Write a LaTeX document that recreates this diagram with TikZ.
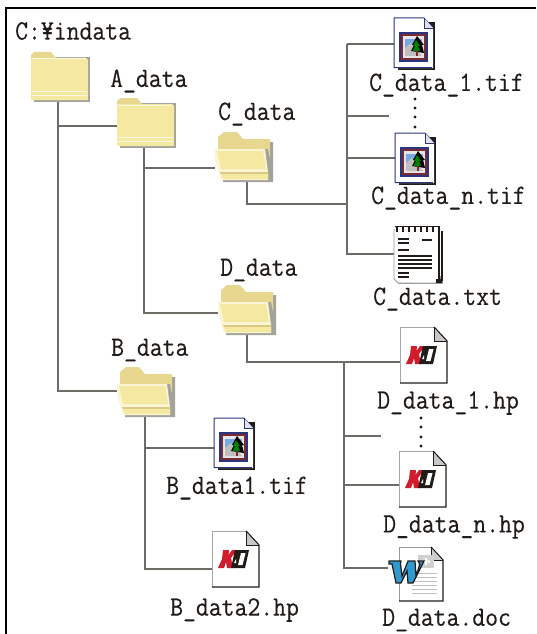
\documentclass[tikz,border=0pt]{standalone}
\usepackage{fontspec}
\definecolor{fbody}{HTML}{F5E9A2}
\definecolor{ftab}{HTML}{E8D88F}
\definecolor{fedge}{HTML}{D9CB84}
\definecolor{fshadow}{HTML}{A3A39B}
\definecolor{conn}{HTML}{6E6A66}
\definecolor{navy}{HTML}{2A3580}
\definecolor{maroon}{HTML}{7A2A30}
\definecolor{kdred}{HTML}{D01C2C}
\definecolor{wblue}{HTML}{2E9AD0}
\definecolor{ink}{HTML}{221C18}
\newfontfamily\lblfont[FakeBold=0.3]{Latin Modern Mono}
\tikzset{
  lbl/.style={anchor=west,inner sep=0pt,font=\fontsize{25}{27}\lblfont,text=ink},
  iconbox/.style={anchor=north west,inner sep=0pt,outer sep=0pt,minimum width=#1},
  wire/.style={draw=conn,line width=1.15pt},
  dotmark/.style={circle,fill=ink,inner sep=0pt,minimum size=3.2pt},
  pics/closedfolder/.style={code={
    \fill[fshadow] (3,5) -- (59,5) -- (59,50) -- (3,50) -- cycle;
    \fill[ftab] (0,6) -- (0,3) -- (3,0) -- (20,0) -- (25,6) -- cycle;
    \fill[fbody] (0,6) -- (55,6) -- (57,8) -- (57,48) -- (0,48) -- cycle;
    \draw[white!70!fbody,line width=1pt] (1,7) -- (55,7);
    \draw[white!70!fbody,line width=1pt] (1,39) -- (56,39) (1,43) -- (56,43);
  }},
  pics/openfolder/.style={code={
    \fill[fshadow] (8,12) -- (58,10) -- (58,50) -- (8,50) -- cycle;
    \fill[ftab] (3,20) -- (3,5) -- (9,0) -- (22,0) -- (28,7) -- (55,7) -- (55,25) -- cycle;
    \fill[fshadow] (49,17) -- (53,17) -- (57,38) -- (56,48) -- (50,48) -- cycle;
    \fill[white!55!fbody] (0,17) -- (50,17) -- (53,40) -- (53,48) -- (6,48) -- (0,28) -- cycle;
    \fill[fbody] (2,19) -- (48,19) -- (51,37) -- (6,37) -- cycle;
    \fill[fedge] (5,40) -- (53,40) -- (53,42) -- (6,42) -- cycle;
    \fill[fbody] (6,42) -- (53,42) -- (53,47) -- (8,47) -- cycle;
  }},
  pics/tifdoc/.style={code={
    \fill[ink] (4,4) -- (41,4) -- (41,52) -- (4,52) -- cycle;
    \fill[white] (0,0) -- (30,0) -- (39,10) -- (39,50) -- (0,50) -- cycle;
    \draw[navy,line width=1pt] (39,10) -- (30,0) -- (0,0) -- (0,49.5) -- (38,49.5);
    \fill[white!85!navy] (30,0) -- (30,10) -- (39,10) -- cycle;
    \draw[navy,line width=.8pt] (30,0) -- (30,10) -- (39,10);
    \fill[navy] (5,14) rectangle (34,44);
    \fill[maroon] (7,16) rectangle (32,42);
    \fill[white!90!black] (9,18) rectangle (30,40);
    \fill[cyan!60!blue!55] (11,21) rectangle (28,30);
    \fill[black!25] (11,38) -- (11,30) -- (17,25) -- (28,38) -- cycle;
    \fill[black] (23,18) -- (30,27) -- (28,27) -- (30,35) -- (17,33) -- (20,27) -- (18,27) -- cycle;
    \fill[green!50!black] (22,22) -- (26,28) -- (24,28) -- (26,33) -- (18.5,33) -- (21,28) -- (19,28) -- cycle;
    \fill[maroon] (22,33) rectangle (23.5,38);
  }},
  pics/blankpage/.style={code={
    \fill[white] (0,0) -- (34,0) -- (47,14) -- (47,56) -- (0,56) -- cycle;
    \draw[black!35,line width=.9pt] (0,56) -- (0,0) -- (34,0);
    \draw[ink,line width=1.3pt] (0,56) -- (47,56) -- (47,14) -- (34,0);
    \fill[black!22] (34,1) -- (34,14) -- (46,14) -- cycle;
    \draw[ink,line width=.6pt] (34,0) -- (34,14) -- (47,14);
  }},
  pics/kd/.style={code={
    \fill[kdred] (11,19) -- (17,19) -- (16.5,24) -- (20,19) -- (25,19) -- (19,27) -- (21,37) -- (15,37) -- (14,31) -- (12,37) -- (6,37) -- (10,28) -- cycle;
    \fill[ink] (23,19) -- (37,19) -- (33,37) -- (19,37) -- cycle;
    \fill[white] (29,22) -- (33.5,22) -- (30.5,34) -- (26,34) -- cycle;
    \fill[white] (22,32) -- (24,28) -- (24,32) -- cycle;
  }},
  pics/notepad/.style={code={
    \fill[black!40] (4,50) rectangle (49,58);
    \fill[white] (0,2) -- (45,2) -- (45,54) -- (41,57) -- (4,57) -- (0,53) -- cycle;
    \draw[black!40,line width=.8pt] (0,3) -- (0,53) -- (4,57) -- (45,57);
    \draw[ink,line width=1.1pt] (45,3) -- (45,56) (48,5) -- (48,55);
    \fill[ink] (42,53) rectangle (48,57);
    \foreach \i in {3,9,...,45}{\draw[ink,line width=1.2pt] (\i,0) -- (\i,6);}
    \draw[ink,line width=1pt] (1,0.5) -- (45,0.5);
    \fill[ink] (4,12) rectangle (15,14);
    \fill[ink] (4,16) rectangle (15,18);
    \fill[ink] (28,13) rectangle (38,15);
    \fill[ink] (4,23) rectangle (15,25);
    \foreach \y in {29,33,37}{\fill[ink] (4,\y) rectangle (38,\y+2);}
    \fill[ink] (4,41) rectangle (38,42.8);
    \fill[ink] (4,46) rectangle (15,48);
    \fill[ink] (4,50) rectangle (15,52);
  }},
  pics/worddoc/.style={code={
    \fill[white] (11,0) -- (43,0) -- (55,13) -- (55,54) -- (11,54) -- cycle;
    \draw[black!40,line width=.8pt] (11,54) -- (11,0) -- (43,0);
    \draw[ink,line width=1.2pt] (11,54) -- (55,54) -- (55,13) -- (43,0);
    \fill[black!20] (43,1) -- (43,13) -- (54,13) -- cycle;
    \draw[ink,line width=.6pt] (43,0) -- (43,13) -- (55,13);
    \fill[black!18] (30,8) rectangle (46,21);
    \fill[white] (37,11) rectangle (39,18) (34,13.5) rectangle (42,15.5);
    \foreach \y in {26,30,34,38,42,46}{\draw[black!25,line width=1pt] (24,\y) -- (49,\y);}
    \draw[ink,line width=1.2pt,fill=wblue,line join=miter]
      (1,14) -- (13,14) -- (12.5,17) -- (14,29) -- (20,14) -- (27,14) -- (28,29)
      -- (32,17) -- (30,14) -- (36,14) -- (25,36) -- (20,36) -- (19,24) -- (13,36)
      -- (8,36) -- (4,17) -- (1,17) -- cycle;
  }}
}
\begin{document}
\begin{tikzpicture}[x=1pt,y=-1pt,line cap=butt]
\useasboundingbox (0,0) rectangle (536,634);
\fill[white] (0,0) rectangle (536,634);
\draw[black,line width=1.8pt] (6,634) -- (6,8) -- (536,8);

% icon placeholders (named nodes), with the drawings on them
\node[iconbox=57pt,minimum height=48pt] (root) at (31,52) {};
\node[iconbox=57pt,minimum height=48pt] (adata) at (117,98) {};
\node[iconbox=57pt,minimum height=48pt] (cdata) at (215,132) {};
\node[iconbox=57pt,minimum height=48pt] (ddata) at (218,285) {};
\node[iconbox=57pt,minimum height=48pt] (bdata) at (117,367) {};
\node[iconbox=40pt,minimum height=50pt] (ct1) at (394,18) {};
\node[iconbox=40pt,minimum height=50pt] (ctn) at (395,133) {};
\node[iconbox=48pt,minimum height=58pt] (ctx) at (394,226) {};
\node[iconbox=47pt,minimum height=56pt] (dh1) at (400,327) {};
\node[iconbox=47pt,minimum height=56pt] (dhn) at (399,451) {};
\node[iconbox=55pt,minimum height=54pt] (ddc) at (388,547) {};
\node[iconbox=40pt,minimum height=50pt] (bt1) at (214,418) {};
\node[iconbox=47pt,minimum height=56pt] (bh2) at (212,531) {};

% trunks and junctions
\coordinate (jA) at (58,126);
\coordinate (jB) at (58,391);
\coordinate (jC) at (144,168);
\coordinate (jD) at (144,313);
\coordinate (jCs) at (247,204);
\coordinate (jDs) at (247,362);
\coordinate (jc1) at (347,44);
\coordinate (jcm) at (347,116);
\coordinate (jcn) at (347,158);
\coordinate (jcx) at (347,254);
\coordinate (jcf) at (347,204);
\coordinate (jd1) at (344,362);
\coordinate (jdm) at (344,436);
\coordinate (jdn) at (344,485);
\coordinate (jdc) at (344,568);
\coordinate (jb1) at (145,448);
\coordinate (jb2) at (145,569);
\coordinate (cmEnd) at (389,116);
\coordinate (dmEnd) at (381,436);

\draw[wire] (root.south -| jA) -- (jB) -- (jB -| bdata.west);
\draw[wire] (jA) -- (jA -| adata.west);
\draw[wire] (adata.south -| jC) -- (jD) -- (jD -| ddata.west);
\draw[wire] (jC) -- (jC -| cdata.west);
\draw[wire] (cdata.south -| jCs) -- (jCs) -- (jcf);
\draw[wire] (jc1) -- (jcx) -- (jcx -| ctx.west);
\draw[wire] (jc1) -- (jc1 -| ct1.west);
\draw[wire] (jcm) -- (cmEnd);
\draw[wire] (jcn) -- (jcn -| ctn.west);
\draw[wire] (ddata.south -| jDs) -- (jDs) -- (jDs -| dh1.west);
\draw[wire] (jd1) -- (jdc) -- (jdc -| ddc.west);
\draw[wire] (jdm) -- (dmEnd);
\draw[wire] (jdn) -- (jdn -| dhn.west);
\draw[wire] (bdata.south -| jb1) -- (jb2) -- (jb2 -| bh2.west);
\draw[wire] (jb1) -- (jb1 -| bt1.west);

% icons
\pic at (root.north west) {closedfolder};
\pic at (adata.north west) {closedfolder};
\pic at (cdata.north west) {openfolder};
\pic at (ddata.north west) {openfolder};
\pic at (bdata.north west) {openfolder};
\pic at (ct1.north west) {tifdoc};
\pic at (ctn.north west) {tifdoc};
\pic at (bt1.north west) {tifdoc};
\pic at (ctx.north west) {notepad};
\pic at (dh1.north west) {blankpage};
\pic at (dh1.north west) {kd};
\pic at (dhn.north west) {blankpage};
\pic at (dhn.north west) {kd};
\pic at (bh2.north west) {blankpage};
\pic at (bh2.north west) {kd};
\pic at (ddc.north west) {worddoc};

% dots
\foreach \n/\y in {a/99,b/108,c/117,d/127}{\node[dotmark] (cd\n) at (415,\y) {};}
\foreach \n/\y in {a/418,b/427,c/437,d/446}{\node[dotmark] (dd\n) at (421,\y) {};}

% labels
\newcommand{\tl}[1]{\scalebox{1}[1.12]{#1}}
\node[lbl] (t0) at (15,31) {\tl{C:¥indata}};
\node[lbl] (t1) at (110,81) {\tl{A\_data}};
\node[lbl] (t2) at (218,114) {\tl{C\_data}};
\node[lbl] (t3) at (220,270) {\tl{D\_data}};
\node[lbl] (t4) at (111,350) {\tl{B\_data}};
\node[lbl] (t5) at (369,85) {\tl{C\_data\_1.tif}};
\node[lbl] (t6) at (371,198) {\tl{C\_data\_n.tif}};
\node[lbl] (t7) at (373,299) {\tl{C\_data.txt}};
\node[lbl] (t8) at (377,403) {\tl{D\_data\_1.hp}};
\node[lbl] (t9) at (383,527) {\tl{D\_data\_n.hp}};
\node[lbl] (t10) at (382,620) {\tl{D\_data.doc}};
\node[lbl] (t11) at (166,488) {\tl{B\_data1.tif}};
\node[lbl] (t12) at (170,610) {\tl{B\_data2.hp}};
\end{tikzpicture}
\end{document}
